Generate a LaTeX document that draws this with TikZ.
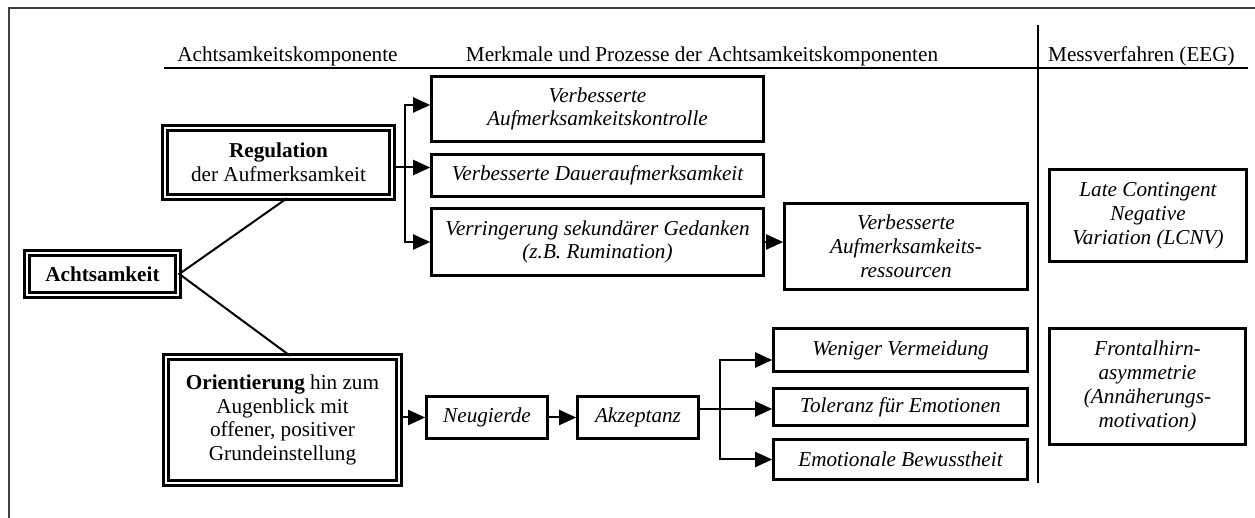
\documentclass[tikz,border=0pt]{standalone}
\usepackage{fontspec}
\setmainfont{Liberation Serif}
\usetikzlibrary{arrows.meta,calc}
\tikzset{
  txt/.style={font=\fontsize{10.6pt}{11.9pt}\selectfont, inner sep=0pt, align=center},
  dbox/.style={txt, draw, line width=1.25pt, double=white, double distance=1.4pt, rectangle},
  sbox/.style={txt, draw, line width=1.3pt, rectangle},
  conn/.style={line width=1pt},
  arr/.style={line width=1pt, -{Triangle[length=8.5pt,width=7.5pt]}},
  sep/.style={line width=0.9pt},
  frame/.style={line width=0.9pt, black!75}
}
\begin{document}
\begin{tikzpicture}[x=0.5pt,y=-0.5pt]
\useasboundingbox (0,0) rectangle (1255,518);
% frame (only top and left edges visible)
\draw[frame] (9,518) -- (9,8) -- (1255,8);
% headers
\node[txt, anchor=base] (h1) at (287.5,62) {Achtsamkeitskomponente};
\node[txt, anchor=base] (h2) at (702,62) {Merkmale und Prozesse der Achtsamkeitskomponenten};
\node[txt, anchor=base] (h3) at (1141.5,62) {Messverfahren (EEG)};
\draw[sep] (164,68) -- (1248,68);
\draw[sep] (1038,25) -- (1038,483);
% double boxes
\node[dbox, minimum width=113.5pt, minimum height=34.5pt] (regul) at (278.5,162.5) {\textbf{Regulation}\\der Aufmerksamkeit};
\node[dbox, minimum width=75.5pt, minimum height=21pt] (acht) at (102.5,274) {\textbf{Achtsamkeit}};
\node[dbox, minimum width=116.5pt, minimum height=63pt] (orient) at (282.5,420) {\textbf{Orientierung} hin zum\\Augenblick mit\\offener, positiver\\Grundeinstellung};
% single boxes
\node[sbox, minimum width=166pt, minimum height=32.5pt] (b1) at (597.5,109) {\itshape Verbesserte\\\itshape Aufmerksamkeitskontrolle};
\node[sbox, minimum width=166pt, minimum height=21pt] (b2) at (597.5,175.5) {\itshape Verbesserte Daueraufmerksamkeit};
\node[sbox, minimum width=166pt, minimum height=33.5pt] (b3) at (597.5,242) {\itshape Verringerung sekundärer Gedanken\\\itshape (z.B. Rumination)};
\node[sbox, minimum width=121.5pt, minimum height=43pt] (res) at (906,246.5) {\itshape Verbesserte\\\itshape Aufmerksamkeits-\\\itshape ressourcen};
\node[sbox, minimum width=98.5pt, minimum height=46pt] (lcnv) at (1148,215.5) {\itshape Late Contingent\\\itshape Negative\\\itshape Variation (LCNV)};
\node[sbox, minimum width=98pt, minimum height=58pt] (front) at (1147.5,386.5) {\itshape Frontalhirn-\\\itshape asymmetrie\\\itshape (Annäherungs-\\\itshape motivation)};
\node[sbox, minimum width=60.5pt, minimum height=21pt] (neu) at (487,417.5) {\itshape Neugierde};
\node[sbox, minimum width=60.5pt, minimum height=21pt] (akz) at (638,417.5) {\itshape Akzeptanz};
\node[sbox, minimum width=127pt, minimum height=21.5pt] (wen) at (900.5,350) {\itshape Weniger Vermeidung};
\node[sbox, minimum width=127pt, minimum height=18.5pt] (tol) at (900.5,407) {\itshape Toleranz für Emotionen};
\node[sbox, minimum width=127pt, minimum height=20pt] (emo) at (900.5,459.5) {\itshape Emotionale Bewusstheit};
% connectors from Achtsamkeit
\draw[conn] ($(regul.south)+(8.5,0)$) -- (acht.east) -- ($(orient.north)+(7.5,0)$);
% Regulation branch
\coordinate (r1) at ($(b1.west)+(0,-4)$);
\coordinate (r2) at ($(b2.west)+(0,-8)$);
\coordinate (rb) at (405,0);
\draw[arr] (regul.east |- r2) -- (r2);
\draw[arr] (rb |- r2) |- (r1);
\draw[arr] (rb |- r2) |- (b3.west);
\draw[arr] (b3.east) -- (b3.east -| res.west);
% Orientierung chain
\draw[arr] (orient.east |- neu) -- (neu.west);
\draw[arr] (neu.east) -- (akz.west);
\coordinate (t1) at ($(tol.west)+(0,2)$);
\coordinate (w1) at ($(wen.west)+(0,10)$);
\coordinate (ab) at (720,0);
\draw[arr] (akz.east |- t1) -- (t1);
\draw[arr] (ab |- t1) |- (w1);
\draw[arr] (ab |- t1) |- (emo.west);
\end{tikzpicture}
\end{document}
